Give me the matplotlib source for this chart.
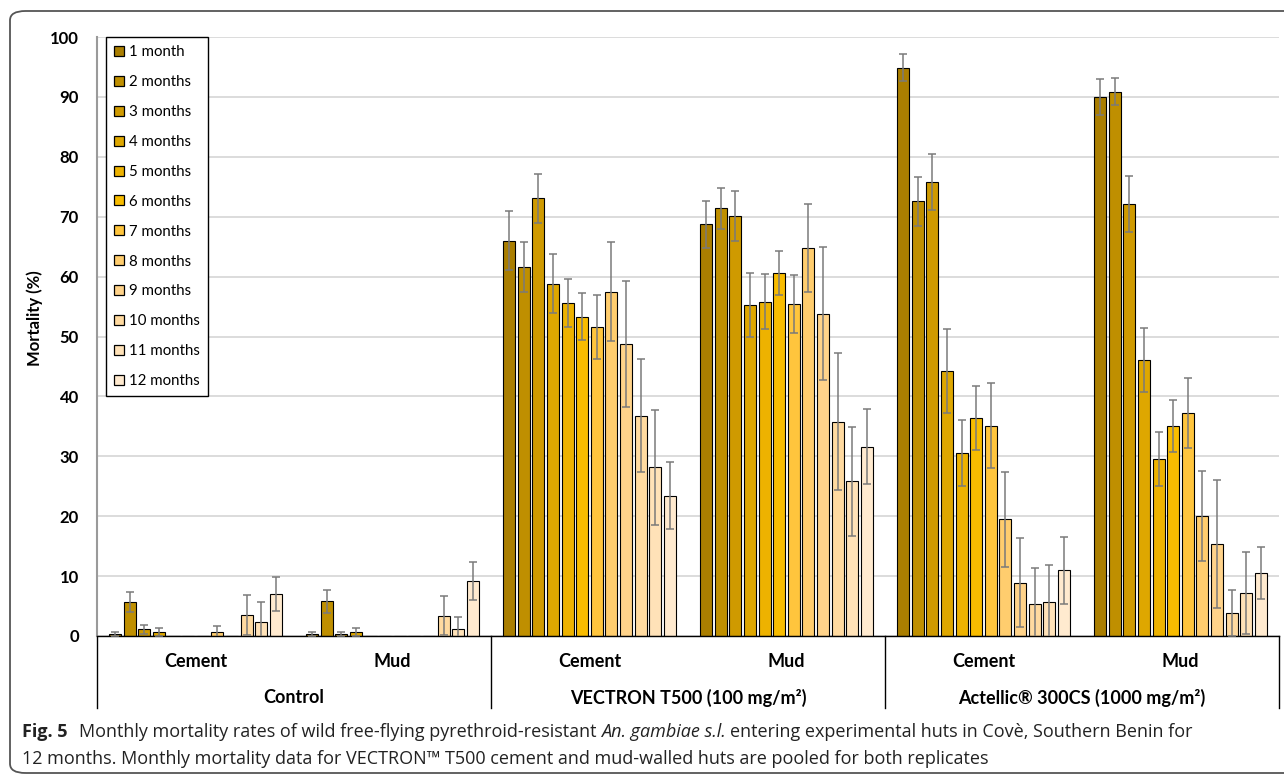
import numpy as np
import matplotlib
matplotlib.use("Agg")
import matplotlib.pyplot as plt
from matplotlib.patches import FancyBboxPatch, Patch
from matplotlib.transforms import blended_transform_factory, IdentityTransform

# ---------------------------------------------------------------
# data (mortality %, +/- error)
months = ['1 month', '2 months', '3 months', '4 months', '5 months', '6 months',
          '7 months', '8 months', '9 months', '10 months', '11 months', '12 months']
walls = ['Cement', 'Mud', 'Cement', 'Mud', 'Cement', 'Mud']
groups = ['Control', 'VECTRON T500 (100 mg/m²)', 'Actellic® 300CS (1000 mg/m²)']

control_cement = [0.3, 5.7, 1.1, 0.7, 0, 0, 0, 0.6, 0, 3.5, 2.4, 7.0]
control_cement_err = [0.3, 1.7, 0.8, 0.7, 0, 0, 0, 1.0, 0, 3.3, 3.3, 2.9]
control_mud = [0.3, 5.8, 0.3, 0.7, 0, 0, 0, 0, 0, 3.4, 1.1, 9.2]
control_mud_err = [0.3, 1.9, 0.3, 0.7, 0, 0, 0, 0, 0, 3.2, 2.1, 3.2]
vectron_cement = [66.0, 61.6, 73.1, 58.8, 55.6, 53.3, 51.6, 57.5, 48.8, 36.8, 28.2, 23.4]
vectron_cement_err = [4.9, 4.1, 4.1, 4.9, 4.0, 3.9, 5.3, 8.2, 10.5, 9.4, 9.6, 5.6]
vectron_mud = [68.7, 71.4, 70.1, 55.3, 55.8, 60.6, 55.4, 64.8, 53.8, 35.8, 25.8, 31.6]
vectron_mud_err = [4.0, 3.4, 4.2, 5.3, 4.6, 3.6, 4.8, 7.3, 11.1, 11.5, 9.1, 6.3]
actellic_cement = [94.9, 72.6, 75.8, 44.2, 30.5, 36.4, 35.1, 19.5, 8.9, 5.4, 5.6, 11.0]
actellic_cement_err = [2.2, 4.1, 4.7, 7.0, 5.5, 5.4, 7.1, 7.9, 7.4, 6.0, 6.2, 5.6]
actellic_mud = [90.0, 90.9, 72.1, 46.1, 29.6, 35.1, 37.2, 20.0, 15.4, 3.8, 7.2, 10.5]
actellic_mud_err = [3.0, 2.2, 4.7, 5.3, 4.5, 4.3, 5.8, 7.5, 10.7, 3.8, 6.9, 4.3]

colors = ['#AA7E00', '#BF8F00', '#CF9A00', '#DEA700', '#EDB200', '#F8BC00',
          '#FFC53D', '#FFCD6E', '#FFD38A', '#FFDAA0', '#FFE2B8', '#FFEACF']
# ---------------------------------------------------------------

values = [control_cement, control_mud, vectron_cement, vectron_mud, actellic_cement, actellic_mud]
errors = [control_cement_err, control_mud_err, vectron_cement_err, vectron_mud_err,
          actellic_cement_err, actellic_mud_err]

plt.rcParams['font.family'] = ['Lato', 'DejaVu Sans']

W, H = 1284, 774
fig = plt.figure(figsize=(W / 100, H / 100), dpi=100)
ax = fig.add_axes([97 / W, 1 - 636 / H, (1279 - 97) / W, 599 / H])

step = 0.0741
bw = 0.061
offs = (np.arange(12) - 5.5) * step
vals = np.array(values)
errs = np.array(errors)
for m in range(12):
    xs = np.arange(6) + 0.5 + offs[m]
    ax.bar(xs, vals[:, m], width=bw, color=colors[m], edgecolor='black', linewidth=0.8, zorder=2)
    keep = errs[:, m] > 0
    ax.errorbar(xs[keep], vals[keep, m], yerr=errs[keep, m], fmt='none', ecolor='#7a7a7a',
                elinewidth=1.1, capsize=3.2, capthick=1.1, zorder=3)

ax.set_xlim(0, 6)
ax.set_ylim(0, 100)
ax.set_yticks(np.arange(0, 101, 10))
ax.tick_params(axis='y', length=0, pad=13, labelsize=12)
for lab in ax.get_yticklabels():
    lab.set_fontweight('bold')
ax.set_xticks([])
ax.yaxis.grid(True, color='#d9d9d9', lw=1.3)
ax.set_axisbelow(True)
for s in ['top', 'right']:
    ax.spines[s].set_visible(False)
ax.spines['left'].set_color('#9a9a9a')
ax.spines['left'].set_linewidth(1.5)
ax.spines['bottom'].set_color('black')
ax.spines['bottom'].set_linewidth(1.0)

ax.set_ylabel('Mortality (%)', fontsize=12, fontweight='bold')
ax.yaxis.set_label_coords(-0.046, 0.53)

# two-level category axis
tr = blended_transform_factory(ax.transData, ax.transAxes)
for xb in [0, 2, 4, 6]:
    ax.plot([xb, xb], [0, -0.12], transform=tr, color='black', lw=1.0, clip_on=False)
for i, w in enumerate(walls):
    ax.text(i + 0.5, -0.043, w, transform=tr, ha='center', va='center',
            fontsize=13, fontweight='bold')
for i, g in enumerate(groups):
    ax.text(2 * i + 1, -0.103, g, transform=tr, ha='center', va='center',
            fontsize=13, fontweight='bold')

handles = [Patch(facecolor=c, edgecolor='black', linewidth=0.9) for c in colors]
leg = ax.legend(handles, months, loc='upper left', bbox_to_anchor=(0.0076, 1.0),
                fancybox=False, edgecolor='black', framealpha=1, borderaxespad=0,
                fontsize=10.8, labelspacing=1.06, handlelength=0.65, handleheight=0.65,
                handletextpad=0.35, borderpad=0.55)
leg.get_frame().set_linewidth(1.0)

# figure border
fig.patches.append(FancyBboxPatch((10 / W, 1 - 773 / H), 1300 / W, 762 / H,
                                  boxstyle='round,pad=0,rounding_size=0.012',
                                  transform=fig.transFigure, fill=False,
                                  edgecolor='#555555', lw=1.3))

# caption, pieces placed one after another in pixel coordinates
cap_font = ['Open Sans', 'DejaVu Sans']
line1 = [('Fig. 5', 'bold', 'normal'),
         ('Monthly mortality rates of wild free-flying pyrethroid-resistant', 'normal', 'normal'),
         ('An. gambiae s.l.', 'normal', 'italic'),
         ('entering experimental huts in Covè, Southern Benin for', 'normal', 'normal')]
line2 = [('12 months. Monthly mortality data for VECTRON™ T500 cement and mud-walled huts are pooled for both replicates',
          'normal', 'normal')]


def put_line(pieces, x0, y, size, gaps):
    renderer = fig.canvas.get_renderer()
    x = x0
    objs = []
    for k, (txt, wt, st) in enumerate(pieces):
        t = fig.text(x, y, txt, transform=IdentityTransform(), fontsize=size,
                     fontweight=wt, fontstyle=st, family=cap_font, va='baseline', color='#222222')
        objs.append(t)
        x = t.get_window_extent(renderer).x1 + gaps[k] * size
    return objs, x


fig.canvas.draw()
size = 12
objs, xend = put_line(line1, 22, H - 737, size, [0.9, 0.35, 0.35, 0])
scale = (1187 - 22) / (xend - 22)
for o in objs:
    o.remove()
size = size * scale
put_line(line1, 22, H - 737, size, [0.9, 0.35, 0.35, 0])
put_line(line2, 22, H - 764, size, [0])

fig.savefig('out.png', dpi=100)
